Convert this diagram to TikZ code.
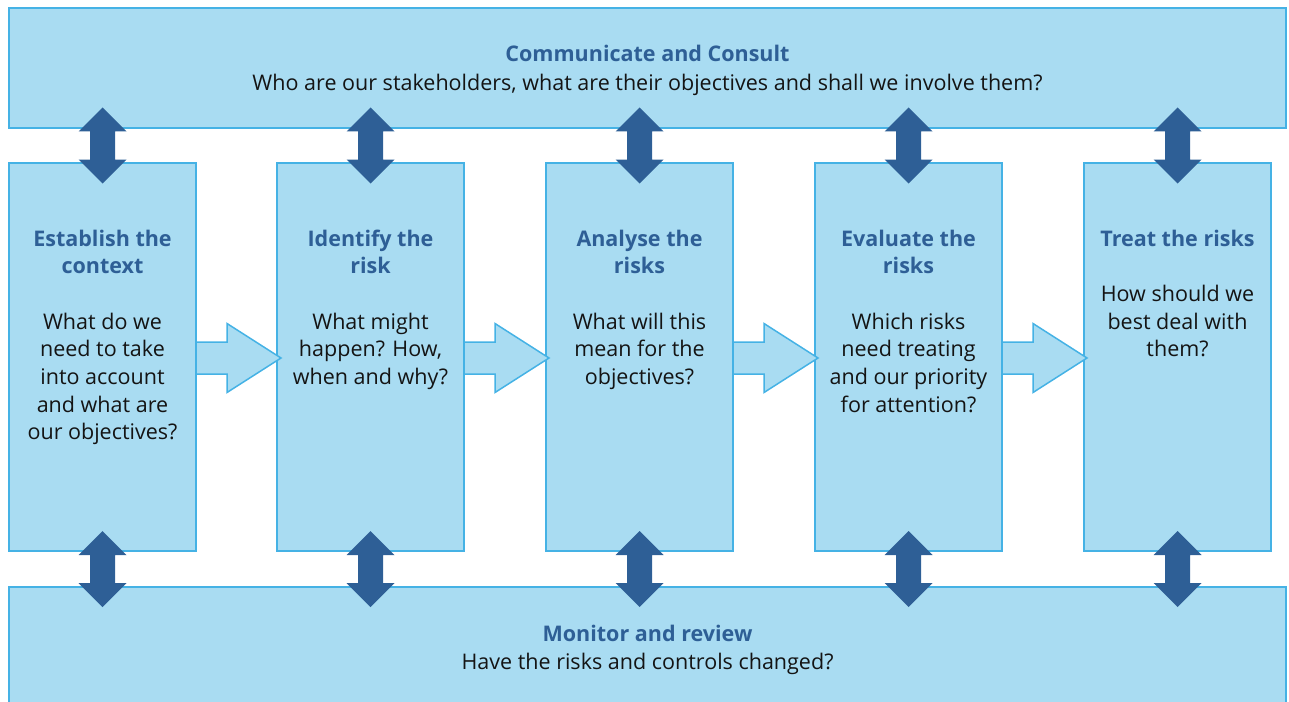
\documentclass[tikz,border=0pt]{standalone}
\usepackage{fontspec}
\setmainfont{Open Sans}
\usetikzlibrary{calc}
\definecolor{boxfill}{HTML}{A9DCF2}
\definecolor{boxline}{HTML}{45B2E5}
\definecolor{darkblue}{HTML}{2E5F96}
\definecolor{bodytext}{HTML}{141414}
\newcommand\bodyfont{\fontsize{21.6}{27.8}\selectfont}
\newcommand\Ls{\strut}
\tikzset{
  panel/.style={draw=boxline, fill=boxfill, line width=1.5bp, inner sep=0, outer sep=0, anchor=north west},
  headtext/.style={font=\bodyfont\bfseries, text=darkblue, inner sep=0, anchor=base},
  plaintext/.style={font=\bodyfont, text=bodytext, inner sep=0, anchor=base},
  coltext/.style={font=\bodyfont, text=bodytext, inner sep=0, anchor=north, align=center},
  varrow/.pic={\fill[darkblue] (0,-38) -- (24,-14) -- (12.5,-14) -- (12.5,14) -- (24,14) -- (0,38) -- (-24,14) -- (-12.5,14) -- (-12.5,-14) -- (-24,-14) -- cycle;},
  harrow/.pic={\filldraw[fill=boxfill, draw=boxline, line width=1.5bp, line join=miter] (0,-16) -- (31,-16) -- (31,-34.5) -- (85,0) -- (31,34.5) -- (31,16) -- (0,16) -- cycle;}
}
\newcommand\hd[1]{\textcolor{darkblue}{\bfseries #1}}
\begin{document}
\begin{tikzpicture}[x=1bp,y=-1bp]
\useasboundingbox (0,0) rectangle (1289,702);
% panels
\node[panel, minimum width=1277bp, minimum height=120bp] (top) at (9,8) {};
\node[panel, minimum width=187bp, minimum height=388bp] (c1) at (9,163) {};
\node[panel, minimum width=187bp, minimum height=388bp] (c2) at (277,163) {};
\node[panel, minimum width=187bp, minimum height=388bp] (c3) at (546,163) {};
\node[panel, minimum width=187bp, minimum height=388bp] (c4) at (815,163) {};
\node[panel, minimum width=187bp, minimum height=388bp] (c5) at (1084,163) {};
\node[panel, minimum width=1277bp, minimum height=125bp] (bot) at (9,587) {};
% texts
\node[headtext] (toph) at (647.5,62) {Communicate and Consult};
\node[plaintext] (topb) at (647.5,90.5) {Who are our stakeholders, what are their objectives and shall we involve them?};
\node[headtext] (both) at (647.5,641) {Monitor and review};
\node[plaintext] (botb) at (647.5,669) {Have the risks and controls changed?};
\node[coltext] (t1) at ($(c1.north)+(0,63.5)$) {\Ls\hd{Establish the}\\\Ls\hd{context}\\\Ls\\\Ls What do we\\\Ls need to take\\\Ls into account\\\Ls and what are\\\Ls our objectives?};
\node[coltext] (t2) at ($(c2.north)+(0,63.5)$) {\Ls\hd{Identify the}\\\Ls\hd{risk}\\\Ls\\\Ls What might\\\Ls happen? How,\\\Ls when and why?};
\node[coltext] (t3) at ($(c3.north)+(0,63.5)$) {\Ls\hd{Analyse the}\\\Ls\hd{risks}\\\Ls\\\Ls What will this\\\Ls mean for the\\\Ls objectives?};
\node[coltext] (t4) at ($(c4.north)+(0,63.5)$) {\Ls\hd{Evaluate the}\\\Ls\hd{risks}\\\Ls\\\Ls Which risks\\\Ls need treating\\\Ls and our priority\\\Ls for attention?};
\node[coltext] (t5) at ($(c5.north)+(0,63.5)$) {\Ls\hd{Treat the risks}\\\Ls\\\Ls How should we\\\Ls best deal with\\\Ls them?};
% horizontal block arrows
\foreach \i in {1,2,3,4} {
  \pic at ($(c\i.east)+(0,1)$) {harrow};
}
% vertical double arrows
\foreach \i in {1,...,5} {
  \pic at ($(top.south -| c\i.north)!0.5!(c\i.north)$) {varrow};
  \pic at ($(c\i.south)!0.5!(bot.north -| c\i.south)$) {varrow};
}
\end{tikzpicture}
\end{document}
